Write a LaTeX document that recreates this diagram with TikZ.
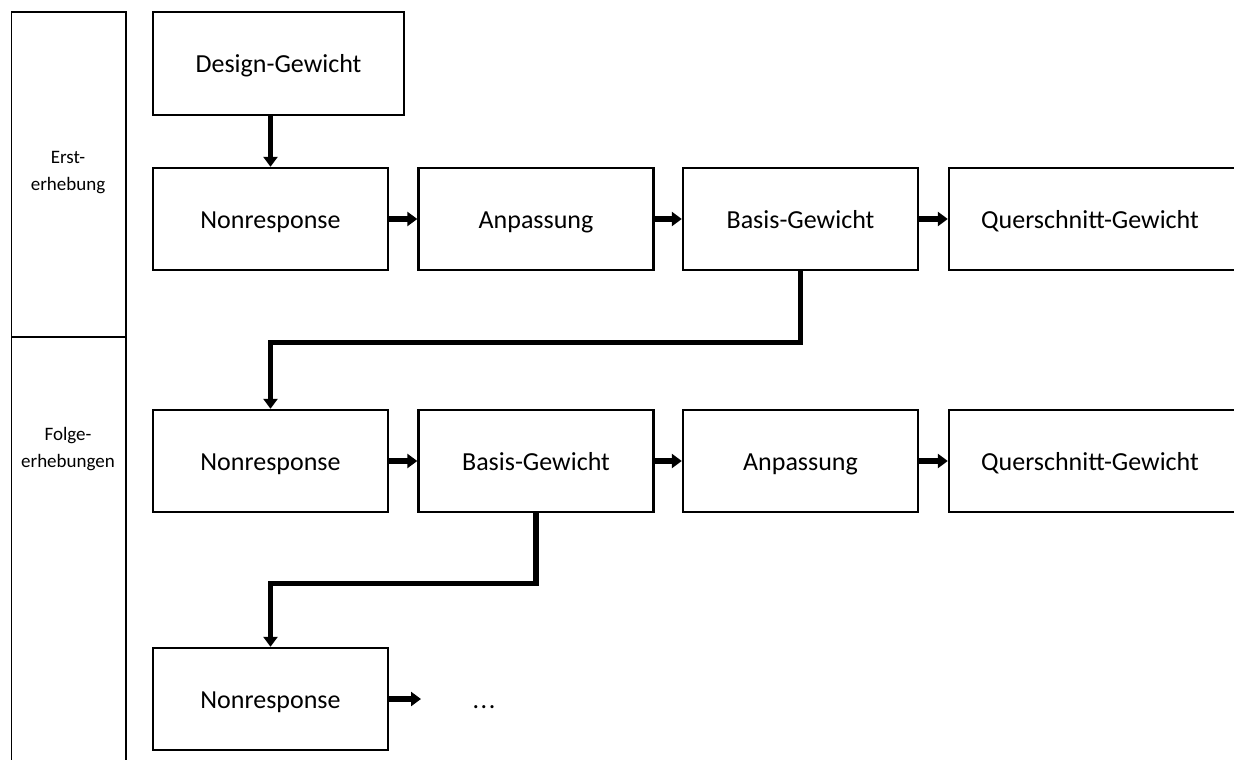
\documentclass[tikz,border=0pt]{standalone}
\usepackage{fontspec}
\setmainfont{Carlito}
\usetikzlibrary{arrows.meta}
\tikzset{
  boxfont/.style={font=\fontsize{26}{30}\selectfont, text height=20pt, text depth=1pt},
  box/.style={draw, line width=2.4pt, minimum width=235pt, minimum height=102pt, inner sep=0pt, boxfont},
  side/.style={font=\fontsize{19}{27}\selectfont, align=center, inner sep=0pt},
  conn/.style={line width=5.2pt, -{Triangle[length=10pt,width=14pt]}},
}
\begin{document}
\begin{tikzpicture}[x=1pt,y=-1pt]
\useasboundingbox (0,0) rectangle (1234,760);
\clip (0,0) rectangle (1234,760);
% left column
\draw[line width=1.6pt] (11.5,790) -- (11.5,12) -- (126,12) -- (126,790);
\draw[line width=1.6pt] (11.5,337) -- (126,337);
\node[side] (erst) at (68,173) {Erst-\\erhebung};
\node[side] (folge) at (68,449) {Folge-\\erhebungen};
% boxes
\node[box, minimum width=251pt, minimum height=103pt] (dg) at (278.5,63.5) {Design-Gewicht};
\node[box] (nr1) at (270.5,219) {Nonresponse};
\node[box] (an1) at (536,219) {Anpassung};
\node[box] (bg1) at (800.5,219) {Basis-Gewicht};
\node[box, minimum width=300pt] (qs1) at (1099,219) {};
\node[boxfont] (qs1t) at (1090,219) {Querschnitt-Gewicht};
\node[box] (nr2) at (270.5,461) {Nonresponse};
\node[box] (bg2) at (536,461) {Basis-Gewicht};
\node[box] (an2) at (800.5,461) {Anpassung};
\node[box, minimum width=300pt] (qs2) at (1099,461) {};
\node[boxfont] (qs2t) at (1090,461) {Querschnitt-Gewicht};
\node[box] (nr3) at (270.5,699) {Nonresponse};
\node[boxfont] (dots) at (484,699) {.\kern1.5pt.\kern1.5pt.};
% connectors
\draw[conn] (dg.south -| nr1.north) -- (nr1.north);
\draw[conn] (nr1.east) -- (an1.west);
\draw[conn] (an1.east) -- (bg1.west);
\draw[conn] (bg1.east) -- (qs1.west);
\draw[conn] (bg1.south) -- ++(0,71) -| (nr2.north);
\draw[conn] (nr2.east) -- (bg2.west);
\draw[conn] (bg2.east) -- (an2.west);
\draw[conn] (an2.east) -- (qs2.west);
\draw[conn] (bg2.south) -- ++(0,70) -| (nr3.north);
\coordinate (dotsin) at (421,699);
\draw[conn] (nr3.east) -- (dotsin);
\end{tikzpicture}
\end{document}
